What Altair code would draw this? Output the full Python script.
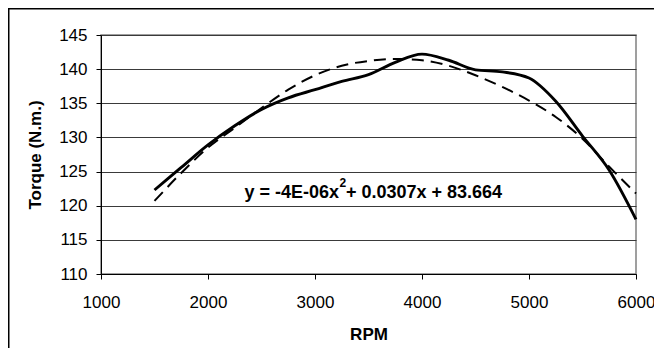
import altair as alt
import pandas as pd

rpm = [1500, 1750, 2000, 2250, 2500, 2750, 3000, 3250, 3500, 3750, 4000,
       4250, 4500, 4750, 5000, 5250, 5500, 5750, 6000]
torque_measured = [122.3, 125.6, 128.9, 131.7, 134.1, 135.8, 137.0, 138.2, 139.2,
                   141.0, 142.2, 141.3, 139.9, 139.6, 138.7, 135.3, 130.2, 125.2, 118.0]
torque_trend = [120.7, 124.8, 128.5, 131.4, 134.3, 137.0, 139.1, 140.5, 141.2,
                141.5, 141.3, 140.5, 139.1, 137.4, 135.4, 133.0, 129.8, 125.7, 121.8]
x_ticks = [1000, 2000, 3000, 4000, 5000, 6000]
y_ticks = [110, 115, 120, 125, 130, 135, 140, 145]
eq_parts = ["y = -4E-06x", "2", " + 0.0307x + 83.664"]

W, H = 535, 239
PL, PT, PR, PB = 93, 27, 18, 74
FONT = "Liberation Sans"
EQ_X, EQ_Y = 2340, 121.8

df = pd.DataFrame({"rpm": rpm, "measured": torque_measured, "trend": torque_trend})

xs = alt.Scale(domain=[1000, 6000], nice=False, zero=False)
ys = alt.Scale(domain=[110, 145], nice=False, zero=False)
xaxis = alt.Axis(values=x_ticks, grid=False, domainColor="black", tickColor="black",
                 tickSize=5, labelPadding=15, titlePadding=16, format="d",
                 labelFlush=False, labelOverlap=False)
yaxis = alt.Axis(values=y_ticks, grid=True, gridColor="#3a3a3a", domainColor="black",
                 tickColor="black", tickSize=5, labelPadding=9, titlePadding=14, format="d",
                 labelFlush=False, labelOverlap=False)

base = alt.Chart(df)

solid = base.mark_line(color="black", strokeWidth=2.9, interpolate="monotone").encode(
    x=alt.X("rpm:Q", scale=xs, title="RPM", axis=xaxis),
    y=alt.Y("measured:Q", scale=ys, title="Torque (N.m.)", axis=yaxis),
)

dashed = base.mark_line(color="black", strokeWidth=2.0, strokeDash=[12, 7],
                        interpolate="monotone").encode(
    x=alt.X("rpm:Q", scale=xs, title="RPM", axis=xaxis),
    y=alt.Y("trend:Q", scale=ys, title="Torque (N.m.)", axis=yaxis),
)


def eq_text(part, size, dx, dy):
    return alt.Chart(pd.DataFrame({"x": [EQ_X], "y": [EQ_Y], "t": [part]})).mark_text(
        align="left", baseline="middle", fontWeight="bold", fontSize=size, font=FONT,
        color="black", dx=dx, dy=dy
    ).encode(x=alt.X("x:Q", scale=xs, title="RPM", axis=xaxis),
             y=alt.Y("y:Q", scale=ys, title="Torque (N.m.)", axis=yaxis), text="t:N")


ann1 = eq_text(eq_parts[0], 18, 0, 0)
ann2 = eq_text(eq_parts[1], 12, 95, -10)
ann3 = eq_text(eq_parts[2], 18, 101.5, 0)

one = pd.DataFrame({"a": [0]})
top_border = alt.Chart(one).mark_rule(color="black", strokeWidth=2).encode(
    x=alt.value(-PL), x2=alt.value(W + PR), y=alt.value(-PT + 0.5))
left_border = alt.Chart(one).mark_rule(color="black", strokeWidth=2).encode(
    x=alt.value(-PL + 0.5), y=alt.value(-PT), y2=alt.value(H + PB))

chart = alt.layer(solid, dashed, ann1, ann2, ann3, top_border, left_border).properties(
    width=W, height=H,
    autosize=alt.AutoSizeParams(type="none"),
    padding={"left": PL, "top": PT, "right": PR, "bottom": PB},
    background="white",
).configure_view(stroke="#808080", strokeWidth=1.5).configure_axis(
    labelFont=FONT, titleFont=FONT, labelFontSize=17, titleFontSize=17,
    titleFontWeight="bold", labelColor="black", titleColor="black",
)

chart.save("out.html", embed_options={"renderer": "svg", "actions": False})
